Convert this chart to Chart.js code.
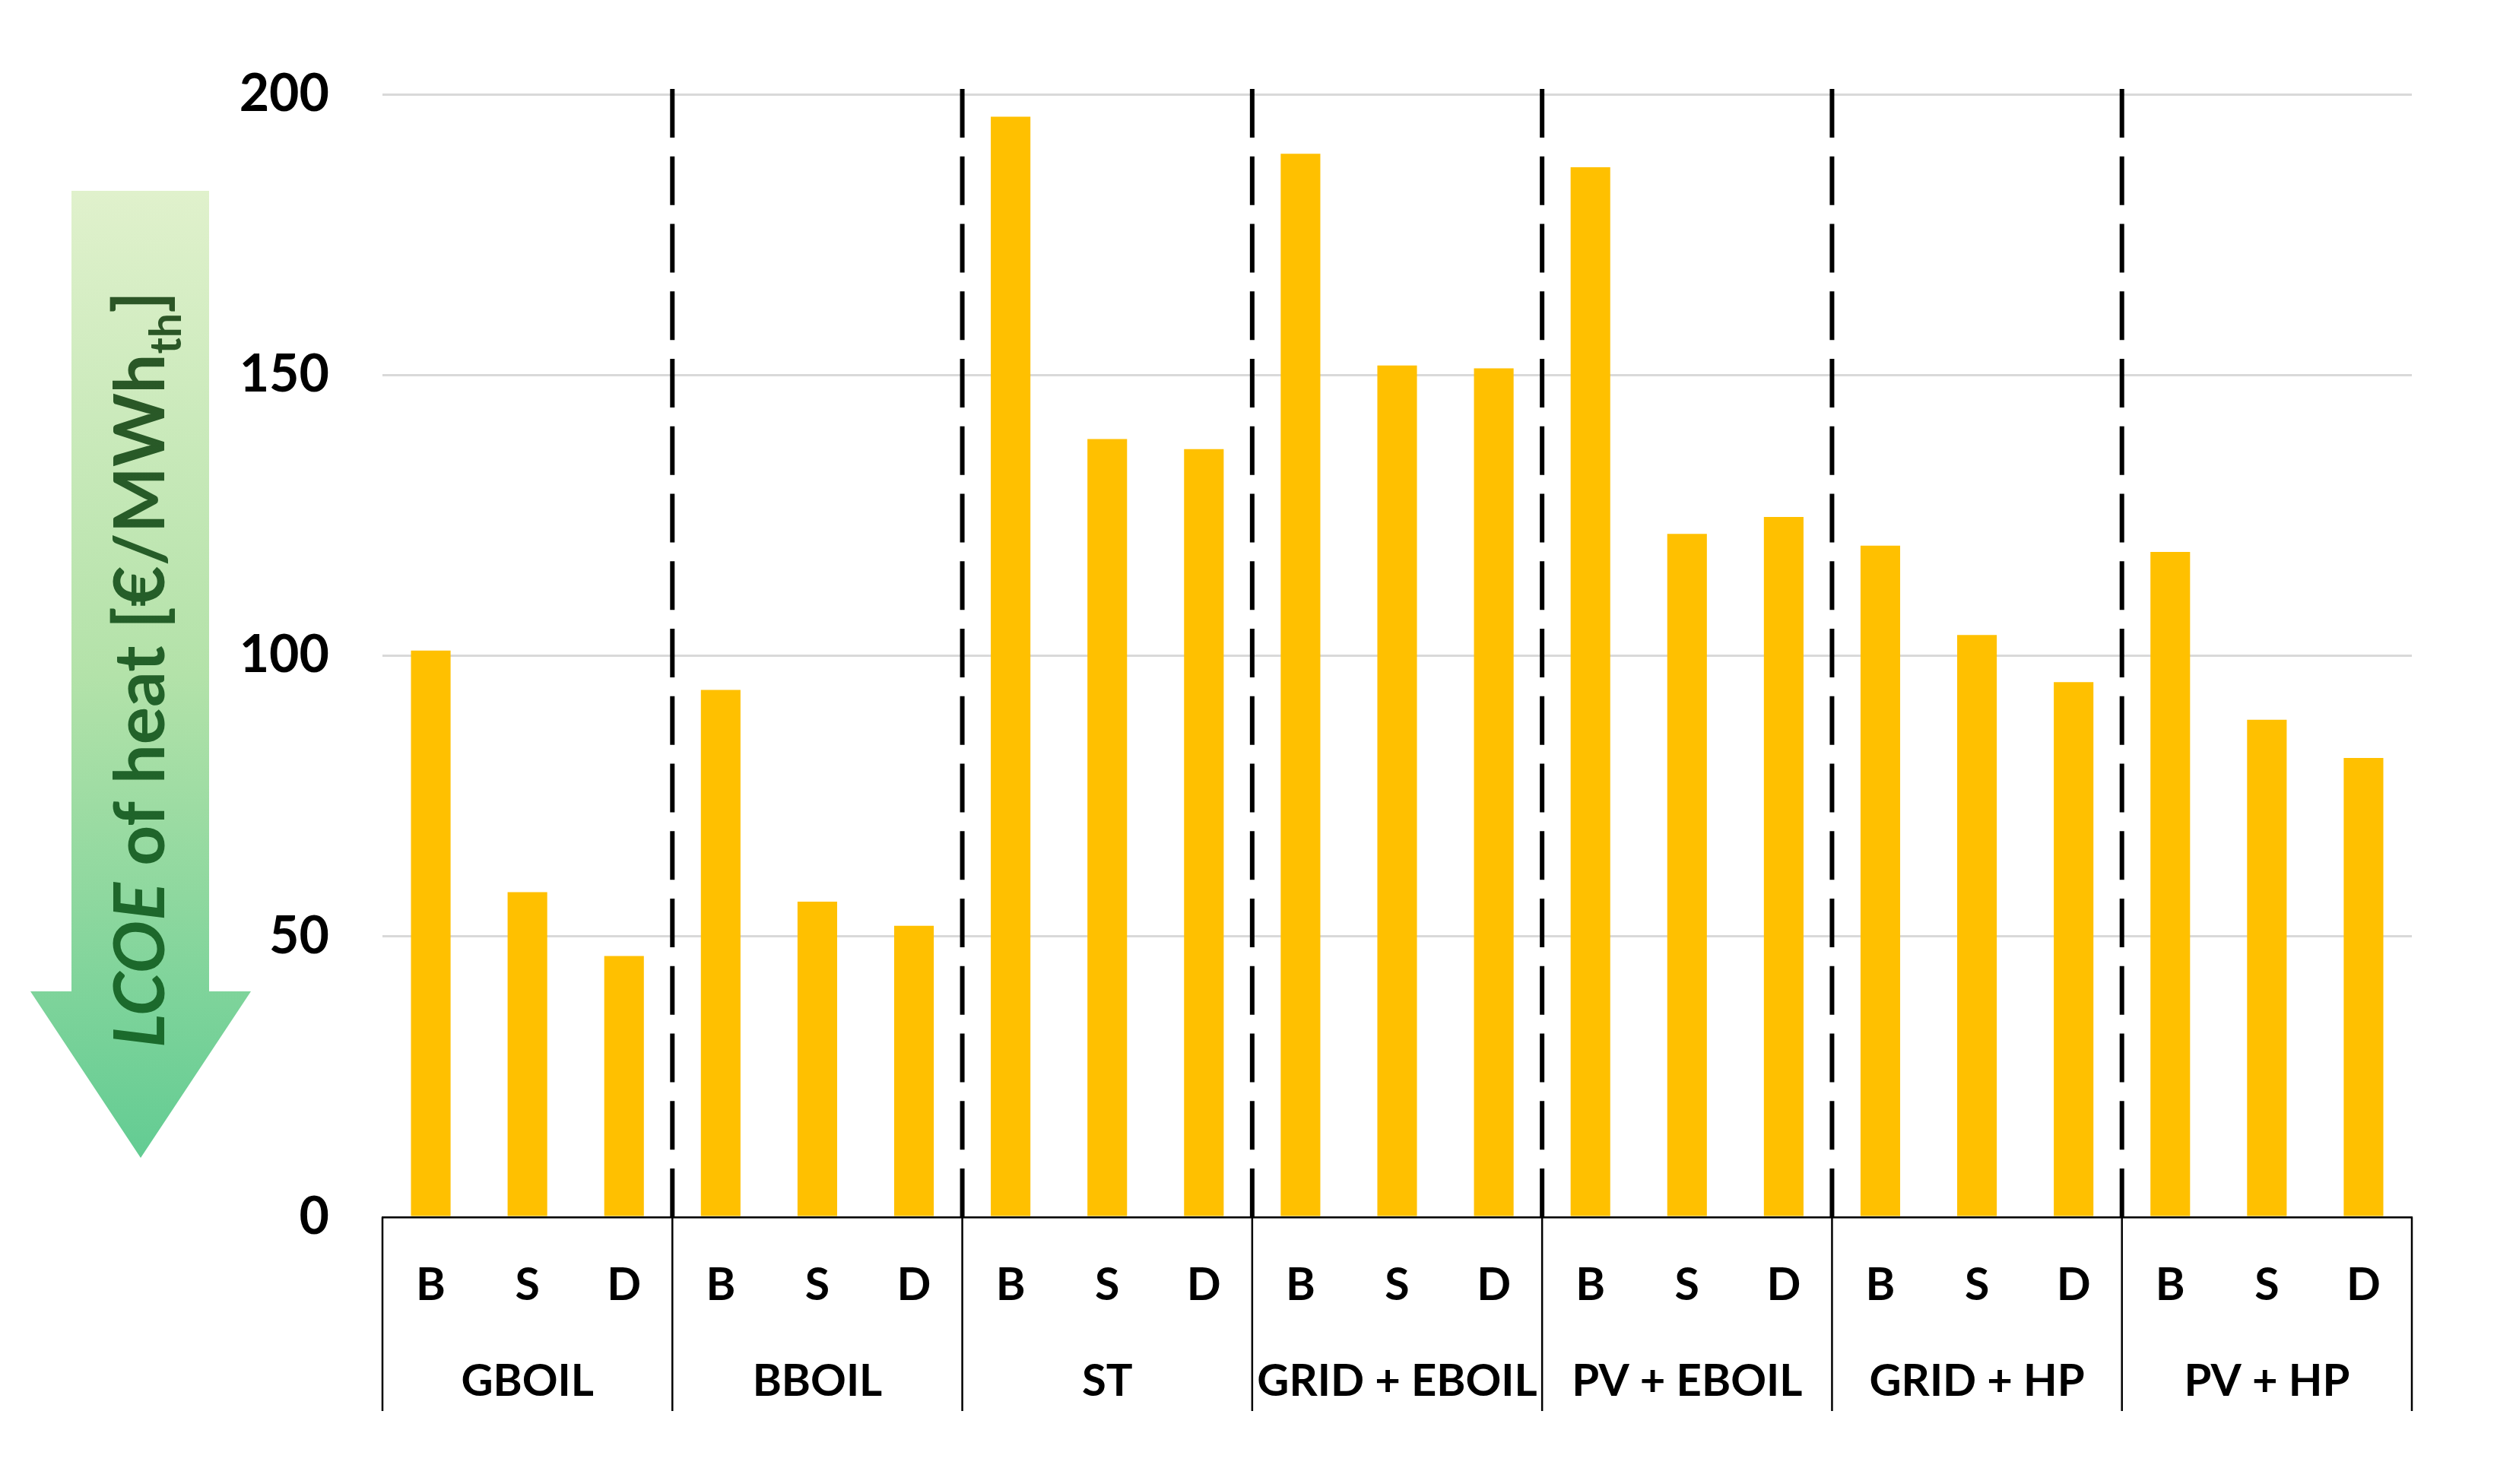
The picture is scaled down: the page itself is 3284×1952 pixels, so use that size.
<!DOCTYPE html>
<html>
<head>
<meta charset="utf-8">
<script src="https://cdn.jsdelivr.net/npm/chart.js@4/dist/chart.umd.min.js"></script>
<style>
  html, body { margin: 0; padding: 0; background: #ffffff; }
  #wrap { width: 3284px; height: 1952px; }
</style>
</head>
<body>
<div id="wrap"><canvas id="c" width="3284" height="1952"></canvas></div>
<script>
// ---------------- DATA ----------------
const groups = ['GBOIL', 'BBOIL', 'ST', 'GRID + EBOIL', 'PV + EBOIL', 'GRID + HP', 'PV + HP'];
const scenarios = ['B', 'S', 'D'];
const lcoeB = [100.9, 93.9, 196.0, 189.4, 187.0, 119.6, 118.5];
const lcoeS = [57.9, 56.2, 138.6, 151.7, 121.7, 103.7, 88.6];
const lcoeD = [46.5, 51.9, 136.8, 151.2, 124.7, 95.3, 81.8];
const yTicks = [0, 50, 100, 150, 200];
const axisTitle = { italic: 'LCOE', main: ' of heat [€/MWh', sub: 'th', end: ']' };

// build flat category list from the arrays above
const subLabels = [];
const values = [];
groups.forEach((g, i) => {
  subLabels.push(scenarios[0], scenarios[1], scenarios[2]);
  values.push(lcoeB[i], lcoeS[i], lcoeD[i]);
});

const FONT = 'Lato, "Open Sans", sans-serif';

// ---------------- PLUGINS ----------------
function boundaryPixels(chart) {
  const x = chart.scales.x;
  const n = subLabels.length, per = scenarios.length;
  const out = [];
  for (let g = 0; g <= groups.length; g++) {
    const b = g * per;
    let px;
    if (b === 0) px = x.left;
    else if (b === n) px = x.right;
    else px = (x.getPixelForValue(b - 1) + x.getPixelForValue(b)) / 2;
    out.push(px);
  }
  return out;
}

const groupLines = {
  id: 'groupLines',
  afterDatasetsDraw(chart) {
    const ctx = chart.ctx, area = chart.chartArea;
    const px = boundaryPixels(chart);
    ctx.save();
    // solid separators under the axis
    ctx.strokeStyle = '#000';
    ctx.lineWidth = 2.5;
    ctx.setLineDash([]);
    px.forEach(p => {
      ctx.beginPath();
      ctx.moveTo(p, area.bottom);
      ctx.lineTo(p, area.bottom + 255);
      ctx.stroke();
    });
    // dashed separators in the plot
    ctx.lineWidth = 6;
    ctx.setLineDash([64, 24.75]);
    px.slice(1, -1).forEach(p => {
      ctx.beginPath();
      ctx.moveTo(p, area.top - 7);
      ctx.lineTo(p, area.bottom);
      ctx.stroke();
    });
    ctx.restore();
  }
};

const arrowTitle = {
  id: 'arrowTitle',
  beforeDraw(chart) {
    const ctx = chart.ctx;
    ctx.save();
    // arrow shape
    const grad = ctx.createLinearGradient(0, 251, 0, 1523);
    grad.addColorStop(0, '#e0f1cc');
    grad.addColorStop(0.5, '#b3e2a9');
    grad.addColorStop(1, '#63cc93');
    ctx.fillStyle = grad;
    ctx.beginPath();
    ctx.moveTo(94, 251);
    ctx.lineTo(275, 251);
    ctx.lineTo(275, 1304);
    ctx.lineTo(330, 1304);
    ctx.lineTo(185, 1523);
    ctx.lineTo(40, 1304);
    ctx.lineTo(94, 1304);
    ctx.closePath();
    ctx.fill();

    // rotated title text
    const size = 92;
    const fItal = 'italic 700 ' + size + 'px ' + FONT;
    const fMain = '700 ' + size + 'px ' + FONT;
    const fSub = '700 ' + Math.round(size * 0.62) + 'px ' + FONT;
    ctx.font = fItal; const w1 = ctx.measureText(axisTitle.italic).width;
    ctx.font = fMain; const w2 = ctx.measureText(axisTitle.main).width;
    ctx.font = fSub; const w3 = ctx.measureText(axisTitle.sub).width;
    ctx.font = fMain; const w4 = ctx.measureText(axisTitle.end).width;
    const total = w1 + w2 + w3 + w4;
    const target = 995;
    const sx = target / total;
    ctx.translate(216, 1378);
    ctx.rotate(-Math.PI / 2);
    ctx.scale(sx, 1);
    ctx.textBaseline = 'alphabetic';
    ctx.textAlign = 'left';
    const grad2 = ctx.createLinearGradient(0, 0, total, 0);
    grad2.addColorStop(0, '#1a6b2c');
    grad2.addColorStop(1, '#2c5526');
    ctx.fillStyle = grad2;
    let cx = 0;
    ctx.font = fItal; ctx.fillText(axisTitle.italic, cx, 0); cx += w1;
    ctx.font = fMain; ctx.fillText(axisTitle.main, cx, 0); cx += w2;
    ctx.font = fSub; ctx.fillText(axisTitle.sub, cx, 22); cx += w3;
    ctx.font = fMain; ctx.fillText(axisTitle.end, cx, 0);
    ctx.restore();
  }
};

// ---------------- CHART ----------------
Chart.defaults.font.family = FONT;
Chart.defaults.color = '#000';

new Chart(document.getElementById('c'), {
  type: 'bar',
  data: {
    labels: subLabels,
    datasets: [{
      data: values,
      backgroundColor: '#FFC000',
      borderWidth: 0,
      barPercentage: 0.41,
      categoryPercentage: 1.0,
      xAxisID: 'x',
      yAxisID: 'y'
    }]
  },
  options: {
    responsive: false,
    animation: false,
    devicePixelRatio: 1,
    layout: { padding: { left: 0, right: 112, top: 124, bottom: 0 } },
    plugins: { legend: { display: false }, tooltip: { enabled: false }, title: { display: false } },
    scales: {
      y: {
        min: 0, max: 200,
        afterBuildTicks(scale) { scale.ticks = yTicks.map(v => ({ value: v })); },
        afterFit(scale) { scale.width = 503; },
        grid: { color: '#d9d9d9', lineWidth: 3, drawTicks: false },
        border: { display: false },
        ticks: { padding: 70, font: { size: 68, weight: '700' }, color: '#000' }
      },
      x: {
        type: 'category',
        position: 'bottom',
        weight: 0,
        afterFit(scale) { scale.height = 150; },
        grid: { display: false, drawTicks: false },
        border: { display: true, color: '#000', width: 2.5 },
        ticks: { padding: 55, font: { size: 59, weight: '700' }, color: '#000', maxRotation: 0, autoSkip: false }
      },
      x2: {
        type: 'category',
        labels: groups,
        position: 'bottom',
        weight: 1,
        offset: true,
        afterFit(scale) { scale.height = 201; },
        grid: { display: false, drawTicks: false },
        border: { display: false },
        ticks: { padding: 31, font: { size: 58, weight: '700' }, color: '#000', maxRotation: 0, autoSkip: false }
      }
    }
  },
  plugins: [arrowTitle, groupLines]
});
</script>
</body>
</html>
